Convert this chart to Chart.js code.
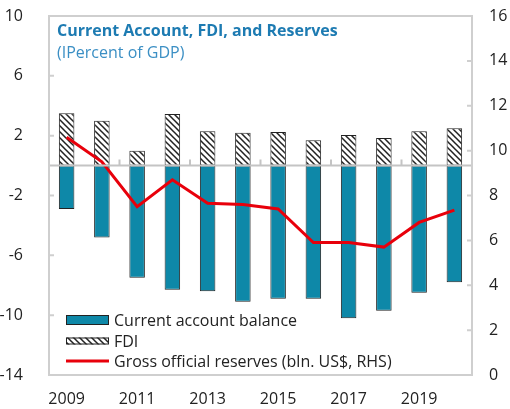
<!DOCTYPE html>
<html>
<head>
<meta charset="utf-8">
<script src="https://cdn.jsdelivr.net/npm/chart.js@4/dist/chart.umd.min.js"></script>
<style>
body { margin: 0; background: #fff; }
#wrap { position: relative; width: 510px; height: 409px; }
#title { position: absolute; left: 57px; top: 19px; font: bold 16px 'Open Sans', sans-serif; color: #1d7bb2; white-space: nowrap; }
#subtitle { position: absolute; left: 57px; top: 41px; font: 16px 'Open Sans', sans-serif; color: #3b8fc4; white-space: nowrap; }
</style>
</head>
<body>
<div id="wrap">
  <canvas id="chart" width="510" height="409"></canvas>
  <div id="title">Current Account, FDI, and Reserves</div>
  <div id="subtitle">(IPercent of GDP)</div>
</div>
<script>
var years = ["2009","2010","2011","2012","2013","2014","2015","2016","2017","2018","2019","2020"];
var currentAccount = [-2.9, -4.8, -7.5, -8.3, -8.4, -9.1, -8.9, -8.9, -10.2, -9.7, -8.5, -7.8];
var fdi = [3.5, 3.0, 1.0, 3.45, 2.3, 2.2, 2.25, 1.7, 2.05, 1.85, 2.3, 2.5];
var reserves = [10.6, 9.5, 7.5, 8.7, 7.65, 7.6, 7.4, 5.9, 5.9, 5.7, 6.8, 7.35];
var leftRange = [-14, 10, 4];
var rightRange = [0, 16, 2];

var FONT = "'Open Sans', sans-serif";
var TEAL = "#0e88a8";

// hatch pattern for FDI
function makeHatch() {
    var n = 6;
    var c = document.createElement("canvas");
    c.width = n; c.height = n;
    var g = c.getContext("2d");
    g.fillStyle = "#fff";
    g.fillRect(0, 0, n, n);
    g.strokeStyle = "#222";
    g.lineWidth = 1.5;
    g.beginPath();
    g.moveTo(-1, -1); g.lineTo(n + 1, n + 1);
    g.moveTo(-1, n - 1); g.lineTo(1, n + 1);
    g.moveTo(n - 1, -1); g.lineTo(n + 1, 1);
    g.stroke();
    return g.createPattern(c, "repeat");
}
var hatch = makeHatch();

var framePlugin = {
    id: "frame",
    afterDatasetsDraw: function(chart) {
        var ctx = chart.ctx, a = chart.chartArea;
        var y = chart.scales.y, y1 = chart.scales.y1;
        ctx.save();
        // zero line
        var z = y.getPixelForValue(0);
        ctx.strokeStyle = "#c4c4c4";
        ctx.lineWidth = 2;
        ctx.beginPath();
        ctx.moveTo(a.left, z); ctx.lineTo(a.right, z);
        // small ticks on zero line every two years
        var step = (a.right - a.left) / years.length;
        for (var i = 2; i < years.length; i += 2) {
            var px = a.left + step * i;
            ctx.moveTo(px, z); ctx.lineTo(px, z - 6);
        }
        ctx.stroke();
        // frame
        ctx.strokeStyle = "#cfcfcf";
        ctx.lineWidth = 2;
        ctx.strokeRect(a.left, a.top, a.right - a.left, a.bottom - a.top);
        // inner ticks on both axes
        ctx.beginPath();
        y.ticks.forEach(function(t) {
            var p = y.getPixelForValue(t.value);
            ctx.moveTo(a.left, p); ctx.lineTo(a.left + 5, p);
        });
        y1.ticks.forEach(function(t) {
            var p = y1.getPixelForValue(t.value);
            ctx.moveTo(a.right, p); ctx.lineTo(a.right - 5, p);
        });
        ctx.stroke();

        // legend
        var lx = a.left + 17, tx = a.left + 65;
        var rows = [a.bottom - 55, a.bottom - 34, a.bottom - 14];
        ctx.font = "16px " + FONT;
        ctx.textBaseline = "middle";
        chart.data.datasets.forEach(function(ds, i) {
            var ry = rows[i];
            if (ds.type === "line") {
                ctx.strokeStyle = ds.borderColor;
                ctx.lineWidth = 3;
                ctx.beginPath();
                ctx.moveTo(lx, ry); ctx.lineTo(lx + 43, ry);
                ctx.stroke();
            } else {
                var h = i === 0 ? 10 : 7;
                ctx.fillStyle = ds.backgroundColor;
                ctx.fillRect(lx, ry - h / 2, 43, h);
                ctx.strokeStyle = "#222";
                ctx.lineWidth = 1;
                ctx.strokeRect(lx + 0.5, ry - h / 2 + 0.5, 42, h - 1);
            }
            ctx.fillStyle = "#222";
            ctx.fillText(ds.label, tx, ry + 1);
        });
        ctx.restore();
    }
};

function fixVertical(width) {
    return function(s) {
        s.width = width;
        s.paddingTop = 0;
        s.paddingBottom = 0;
    };
}

var chart = new Chart(document.getElementById("chart"), {
    type: "bar",
    data: {
        labels: years,
        datasets: [
            {
                label: "Current account balance",
                data: currentAccount,
                backgroundColor: TEAL,
                borderColor: "#222",
                borderWidth: 1,
                borderSkipped: false,
                yAxisID: "y",
                stack: "s",
                order: 2
            },
            {
                label: "FDI",
                data: fdi,
                backgroundColor: hatch,
                borderColor: "#222",
                borderWidth: 1,
                borderSkipped: false,
                yAxisID: "y",
                stack: "s",
                order: 2
            },
            {
                type: "line",
                label: "Gross official reserves (bln. US$, RHS)",
                data: reserves,
                borderColor: "#e8000b",
                borderWidth: 3,
                pointRadius: 0,
                tension: 0,
                fill: false,
                yAxisID: "y1",
                order: 1
            }
        ]
    },
    options: {
        responsive: false,
        animation: false,
        layout: { padding: { top: 16, left: 0, right: 0, bottom: 0 } },
        categoryPercentage: 1,
        barPercentage: 0.44,
        plugins: {
            legend: { display: false },
            tooltip: { enabled: false }
        },
        scales: {
            x: {
                stacked: true,
                grid: { display: false },
                border: { display: false },
                ticks: {
                    autoSkip: false,
                    maxRotation: 0,
                    padding: 7,
                    color: "#222",
                    font: { family: FONT, size: 16 },
                    callback: function(v, i) { return i % 2 === 0 ? years[i] : ""; }
                },
                afterFit: function(s) { s.height = 34; s.paddingLeft = 0; s.paddingRight = 0; }
            },
            y: {
                stacked: true,
                position: "left",
                min: leftRange[0],
                max: leftRange[1],
                grid: { display: false },
                border: { display: false },
                ticks: {
                    stepSize: leftRange[2],
                    padding: 18,
                    color: "#222",
                    font: { family: FONT, size: 16 }
                },
                afterFit: fixVertical(49)
            },
            y1: {
                position: "right",
                min: rightRange[0],
                max: rightRange[1],
                grid: { display: false },
                border: { display: false },
                ticks: {
                    stepSize: rightRange[2],
                    padding: 9,
                    color: "#222",
                    font: { family: FONT, size: 16 }
                },
                afterFit: fixVertical(38)
            }
        }
    },
    plugins: [framePlugin]
});
</script>
</body>
</html>
